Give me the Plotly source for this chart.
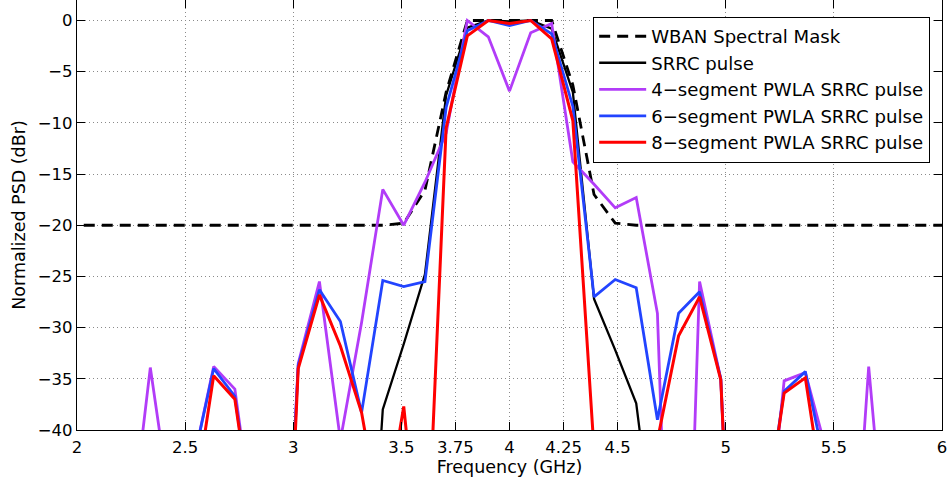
import plotly.graph_objects as go

# Frequency grid (GHz)
freq = [1.948, 2.046, 2.144, 2.241, 2.339, 2.437, 2.534, 2.632, 2.730, 2.827,
        2.925, 3.023, 3.121, 3.218, 3.316, 3.414, 3.511, 3.609, 3.707, 3.805,
        3.902, 4.000, 4.098, 4.195, 4.293, 4.391, 4.489, 4.586, 4.684, 4.782,
        4.879, 4.977, 5.075, 5.173, 5.270, 5.368, 5.466, 5.563, 5.661, 5.759,
        5.857, 5.954, 6.052]

mask = [-20, -20, -20, -20, -20, -20, -20, -20, -20, -20,
        -20, -20, -20, -20, -20, -20, -19.8, -16.6, -7.0, 0,
        0, 0, 0, 0, -6.3, -17.0, -19.8, -20, -20, -20,
        -20, -20, -20, -20, -20, -20, -20, -20, -20, -20,
        -20, -20, -20]

srrc = [-70, -70, -70, -70, -70, -70, -70, -70, -70, -70,
        -70, -70, -70, -70, -70, -38.0, -31.6, -24.8, -7.3, -0.7,
        0, -0.1, 0, -0.8, -7.0, -27.2, -32.2, -37.4, -56, -70,
        -70, -70, -70, -70, -70, -70, -70, -70, -70, -70,
        -70, -70, -70]

pwla4 = [-70, -70, -70, -51.5, -33.9, -48.2, -43.5, -33.8, -36.0, -51,
         -75, -33.5, -25.5, -41, -29.5, -16.5, -20.0, -15.8, -11.0, 0,
         -1.6, -6.9, -1.2, -0.3, -13.8, -16.0, -18.3, -17.3, -28.6, -88,
         -25.5, -35.0, -80, -55, -35.2, -34.4, -42.1, -64, -33.8, -57,
         -70, -70, -70]

pwla6 = [-70, -70, -70, -70, -70, -70, -43.5, -34.0, -36.7, -51,
         -75, -33.7, -26.3, -29.4, -38.3, -25.4, -26.0, -25.5, -8.5, -1.0,
         0, -0.5, 0, -1.3, -8.4, -27.0, -25.3, -26.1, -39.0, -28.6,
         -26.5, -35.0, -80, -50, -36.2, -34.3, -44.1, -60, -70, -70,
         -70, -70, -70]

pwla8 = [-70, -70, -70, -70, -70, -70, -48.2, -34.7, -37.0, -51,
         -80, -34.0, -26.8, -31.8, -38.3, -50, -37.7, -58, -10.5, -1.5,
         0, -0.3, 0, -1.8, -9.8, -42, -60, -70, -41, -30.8,
         -27.0, -35.1, -80, -50, -36.4, -34.9, -48.5, -60, -70, -70,
         -70, -70, -70]

xtick_vals = [2, 2.5, 3, 3.5, 3.75, 4, 4.25, 4.5, 5, 5.5, 6]
xtick_text = ["2", "2.5", "3", "3.5", "3.75", "4", "4.25", "4.5", "5", "5.5", "6"]
ytick_vals = [0, -5, -10, -15, -20, -25, -30, -35, -40]

names = ["WBAN Spectral Mask", "SRRC pulse", "4\u2212segment PWLA SRRC pulse",
         "6\u2212segment PWLA SRRC pulse", "8\u2212segment PWLA SRRC pulse"]

FONT = "DejaVu Sans, Liberation Sans, Arial, sans-serif"
FS_TICK = 16.5
FS_TITLE = 17.5
FS_LEG = 18.1

fig = go.Figure()
fig.add_trace(go.Scatter(x=freq, y=mask, mode="lines", name=names[0],
                         line=dict(color="black", width=2.8, dash="11px,7px")))
fig.add_trace(go.Scatter(x=freq, y=srrc, mode="lines", name=names[1],
                         line=dict(color="black", width=2.3)))
fig.add_trace(go.Scatter(x=freq, y=pwla4, mode="lines", name=names[2],
                         line=dict(color="#b23cf8", width=2.8)))
fig.add_trace(go.Scatter(x=freq, y=pwla6, mode="lines", name=names[3],
                         line=dict(color="#2244ff", width=2.8)))
fig.add_trace(go.Scatter(x=freq, y=pwla8, mode="lines", name=names[4],
                         line=dict(color="#ff0000", width=3)))

axis_common = dict(
    ticks="inside", ticklen=8, tickcolor="black", tickwidth=1,
    showline=True, linecolor="black", linewidth=1.2, mirror="allticks",
    showgrid=True, gridcolor="#8a8a8a", griddash="1px,3px", gridwidth=1,
    zeroline=False, tickfont=dict(size=FS_TICK, color="black", family=FONT),
)

fig.update_xaxes(range=[2, 6], tickvals=xtick_vals, ticktext=xtick_text,
                 ticklabelstandoff=2,
                 title=dict(text="Frequency (GHz)", font=dict(size=FS_TITLE, color="black", family=FONT), standoff=1),
                 **axis_common)
fig.update_yaxes(range=[-40, 2], tickvals=ytick_vals,
                 title=dict(text="Normalized PSD (dBr)", font=dict(size=FS_TITLE, color="black", family=FONT), standoff=7),
                 **axis_common)

fig.update_layout(
    width=948, height=484,
    margin=dict(l=77, r=6, t=0, b=54),
    paper_bgcolor="white", plot_bgcolor="white",
    font=dict(family=FONT, size=FS_LEG, color="black"),
    showlegend=True,
    legend=dict(x=0.5965, y=0.961, xanchor="left", yanchor="top",
                bgcolor="white", bordercolor="black", borderwidth=1.2,
                itemwidth=47,
                font=dict(size=FS_LEG, color="black", family=FONT), tracegroupgap=0),
)

fig.write_html("out.html")
